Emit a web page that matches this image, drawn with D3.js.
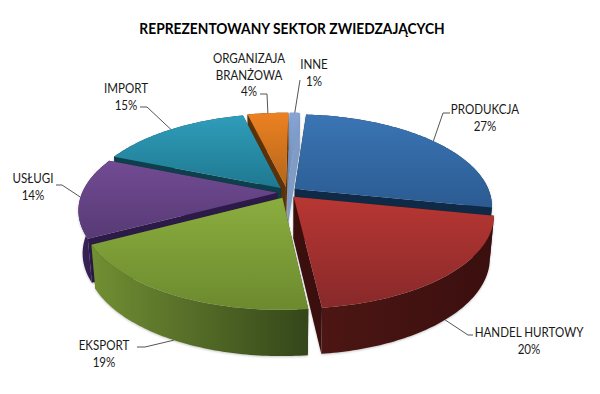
<!DOCTYPE html>
<html><head><meta charset="utf-8">
<script src="https://cdn.jsdelivr.net/npm/d3@7"></script>
<style>html,body{margin:0;padding:0;background:#fff}svg{display:block}text{font-family:Lato,"Open Sans",sans-serif;fill:#1a1a1a}</style>
</head><body><div id="c"></div>
<script>
const title = "REPREZENTOWANY SEKTOR ZWIEDZAJĄCYCH";
const categories = ["PRODUKCJA","HANDEL HURTOWY","EKSPORT","USŁUGI","IMPORT","ORGANIZAJA BRANŻOWA","INNE"];
const values = [27,20,19,14,15,4,1];
const labelLines = [["PRODUKCJA"],["HANDEL HURTOWY"],["EKSPORT"],["USŁUGI"],["IMPORT"],["ORGANIZAJA","BRANŻOWA"],["INNE"]];
const topColors = [["#3a75b4","#2b5b92"],["#b83733","#88292a"],["#8bad3f","#6c8a2e"],["#724b93","#573a75"],["#2f9dba","#1f7890"],["#ec8122","#b5661a"],["#86a4d4","#6f8cb8"]];
const wallColors = [["#0f2a47","#0f2a47"],["#4c1614","#3a0f0e"],["#728f33","#34461a"],["#3a2458","#2c1a48"],["#0d3f4c","#0d3f4c"],["#5e3208","#5e3208"],["#7f9cc6","#7f9cc6"]];
const labelCenters = [[485,114],[529,337],[104,350],[33,183],[126,93],[249,63],[314,69]];
const leaderElbows = [[443,113,450],[468,335,473],[145,347,137],[62,185,56],[147,107,140],[267,94,260],[300,80,300]];
const drawOrder = [6,5,0,4,3,1,2];

const W=600,H=394,cx=287,cy=192.5,Rx=195,Ay=89.5,persp=0.183,explode=0.05,explodeZ=1.3;
const deg=Math.PI/180, startAngle=4.4*deg;
const pie=d3.pie().sort(null).value(d=>d).startAngle(startAngle).endAngle(startAngle+2*Math.PI);
const arcs=pie(values);
const svg=d3.select("#c").append("svg").attr("width",W).attr("height",H);
const defs=svg.append("defs");
function grad(id,c,horizontal){
  const g=defs.append("linearGradient").attr("id",id).attr("x1",0).attr("y1",0).attr("x2",horizontal?1:0).attr("y2",horizontal?0:1);
  g.append("stop").attr("offset","0%").attr("stop-color",c[0]);
  g.append("stop").attr("offset","100%").attr("stop-color",c[1]);
}
topColors.forEach((c,i)=>grad("t"+i,c,false));
wallColors.forEach((c,i)=>grad("w"+i,c,true));
function proj(X,Z,bottom){
  const s=1/(1+persp*Z);
  let x=Rx*X*s, y=-Ay*Z*s;
  if(bottom){x*=0.98; y+=42-4*Z;}
  return [cx+x,cy+y];
}
function pt(a,mid,r,bottom){
  return proj(r*Math.sin(a)+explode*Math.sin(mid), r*Math.cos(a)+explode*explodeZ*Math.cos(mid), bottom);
}
const line=d3.line();
function rim(a0,a1,mid,bottom){
  const n=Math.max(2,Math.ceil((a1-a0)/deg));
  return d3.range(n+1).map(i=>pt(a0+(a1-a0)*i/n,mid,1,bottom));
}
drawOrder.forEach(i=>{
  const d=arcs[i],a0=d.startAngle,a1=d.endAngle,m=(a0+a1)/2;
  const g=svg.append("g").style("filter","drop-shadow(0.5px 1px 1px rgba(0,0,0,.22))");
  const apexT=pt(0,m,0,false),apexB=pt(0,m,0,true);
  const wallDark=wallColors[i][1];
  [a0,a1].forEach(a=>{
    g.append("path").attr("d",line([apexT,pt(a,m,1,false),pt(a,m,1,true),apexB])+"Z").attr("fill",i===6?wallColors[i][0]:wallDark);
  });
  g.append("path").attr("d",line(rim(a0,a1,m,false).concat(rim(a0,a1,m,true).reverse()))+"Z").attr("fill",`url(#w${i})`);
  g.append("path").attr("d",line([apexT].concat(rim(a0,a1,m,false)))+"Z").attr("fill",`url(#t${i})`);
});
// leaders
arcs.forEach((d,i)=>{
  const m=(d.startAngle+d.endAngle)/2, front=Math.cos(m)<-0.3;
  const p=pt(m,m,1,front), e=leaderElbows[i];
  svg.append("path").attr("d",line([p,[e[0],e[1]],[e[2],e[1]]])).attr("fill","none").attr("stroke","#555").attr("stroke-width",1);
});
// labels
arcs.forEach((d,i)=>{
  const lines=labelLines[i].concat([d.data+"%"]);
  lines.forEach((s,k)=>{
    svg.append("text").attr("text-anchor","middle").attr("font-size",12.6)
      .attr("transform",`translate(${labelCenters[i][0]},${labelCenters[i][1]+k*16.5}) scale(0.92,1)`).text(s);
  });
});
svg.append("text").attr("text-anchor","middle").attr("font-size",15).attr("font-weight",700).style("fill","#000")
  .attr("transform","translate(292,34) scale(0.92,1)").text(title);
</script></body></html>
